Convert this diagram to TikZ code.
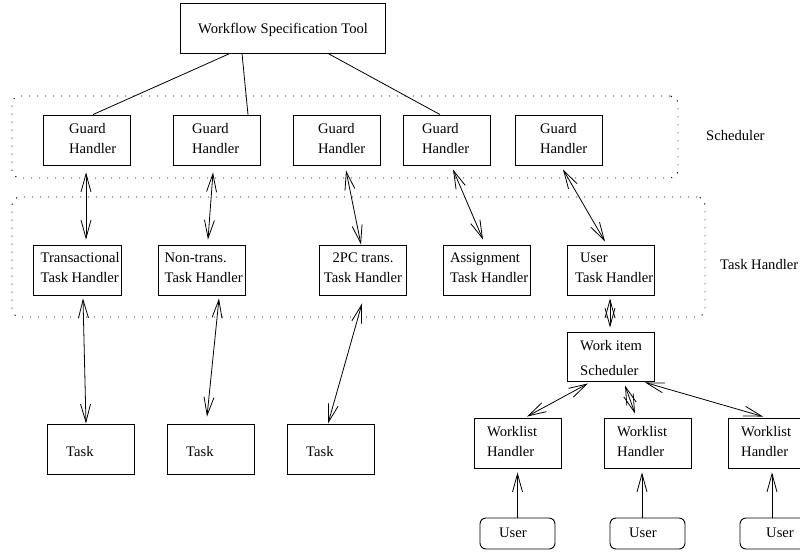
\documentclass[tikz,border=0pt]{standalone}
\usepackage{fontspec}
\setmainfont{Liberation Serif}
\usetikzlibrary{arrows.meta}
\begin{document}
\begin{tikzpicture}[x=1pt,y=-1pt,
  box/.style={draw, line width=0.9pt, minimum width=87pt, minimum height=50pt, inner sep=0pt},
  ubox/.style={draw, line width=0.9pt, rounded corners=6pt, minimum width=75pt, minimum height=31pt, inner sep=0pt},
  grp/.style={draw, line width=0.9pt, dash pattern=on 1.2pt off 6.8pt, rounded corners=8pt, inner sep=0pt},
  txt/.style={anchor=base west, inner sep=0pt, align=left, font=\fontsize{14.6}{20}\selectfont},
  ctxt/.style={anchor=base, inner sep=0pt, align=center, font=\fontsize{14.6}{20}\selectfont},
  conn/.style={line width=0.8pt},
  biarr/.style={line width=0.8pt, {Straight Barb[length=18pt,width=10pt]}-{Straight Barb[length=18pt,width=10pt]}},
  uarr/.style={line width=0.8pt, -{Straight Barb[length=18pt,width=10pt]}}]
\useasboundingbox (0,0) rectangle (800,552);
\clip (0,0) rectangle (800,552);

% groups
\node[grp, minimum width=666pt, minimum height=82pt] (sched) at (345,137) {};
\node[grp, minimum width=693pt, minimum height=120pt] (taskh) at (358.5,257) {};
\node[txt] (schedl) at (706,140) {Scheduler};
\node[txt] (taskhl) at (720,269) {Task Handler};

% top
\node[box, minimum width=205pt] (wst) at (282.5,28) {};
\node[txt] (wstt) at (198,33) {Workflow Specification Tool};

% guard handlers
\node[box] (g1) at (86.5,140) {};
\node[box] (g2) at (216.5,140) {};
\node[box] (g3) at (336.5,140) {};
\node[box] (g4) at (446.5,140) {};
\node[box] (g5) at (558.5,140) {};
\node[txt] (g1t) at (69,153) {Guard\\Handler};
\node[txt] (g2t) at (192,153) {Guard\\Handler};
\node[txt] (g3t) at (318,153) {Guard\\Handler};
\node[txt] (g4t) at (422,153) {Guard\\Handler};
\node[txt] (g5t) at (540,153) {Guard\\Handler};

% task handlers
\node[box, minimum width=88pt] (t1) at (77,270) {};
\node[box] (t2) at (201.5,270) {};
\node[box] (t3) at (362.5,270) {};
\node[box] (t4) at (486.5,270) {};
\node[box] (t5) at (610.5,270) {};
\node[txt] (t1t) at (40.5,282) {Transactional\\Task Handler};
\node[txt] (t2t) at (164.5,282) {Non-trans.\\Task Handler};
\node[ctxt] (t3t) at (363,282) {2PC trans.\\Task Handler};
\node[txt] (t4t) at (450,282) {Assignment\\Task Handler};
\node[txt] (t5t) at (575,282) {\hspace*{5pt}User\\Task Handler};

% work item scheduler
\node[box, minimum height=49pt] (wis) at (610.5,356.5) {};
\node[txt] (wist) at (580,375) {Work item\\[5pt]Scheduler};

% tasks
\node[box] (k1) at (90.5,449) {};
\node[box] (k2) at (210.5,449) {};
\node[box] (k3) at (330.5,449) {};
\node[txt] (k1t) at (66,456) {Task};
\node[txt] (k2t) at (186,456) {Task};
\node[txt] (k3t) at (306,456) {Task};

% worklist handlers
\node[box] (w1) at (517.5,443) {};
\node[box] (w2) at (647.5,443) {};
\node[box] (w3) at (771.5,443) {};
\node[txt] (w1t) at (487,456) {Worklist\\Handler};
\node[txt] (w2t) at (617,456) {Worklist\\Handler};
\node[txt] (w3t) at (741,456) {Worklist\\Handler};

% users
\node[ubox] (u1) at (517.5,533.5) {};
\node[ubox] (u2) at (647.5,533.5) {};
\node[ubox] (u3) at (777.5,533.5) {};
\node[txt] (u1t) at (499,537) {User};
\node[txt] (u2t) at (629,537) {User};
\node[txt] (u3t) at (766,537) {User};

% plain connectors
\draw[conn] ([xshift=-52.5pt]wst.south) -- ([xshift=6.5pt]g1.north);
\draw[conn] ([xshift=-40.5pt]wst.south) -- ([xshift=31.5pt]g2.north);
\draw[conn] ([xshift=45.5pt]wst.south) -- ([xshift=-6.5pt]g4.north);

% guard <-> task handler
\draw[biarr] ([xshift=-0.5pt,yshift=-7pt]g1.south) -- ([xshift=9pt,yshift=5pt]t1.north);
\draw[biarr] ([xshift=-3.5pt,yshift=-7pt]g2.south) -- ([xshift=6.5pt,yshift=5pt]t2.north);
\draw[biarr] ([xshift=9.5pt,yshift=-5pt]g3.south) -- ([xshift=-1.5pt]t3.north);
\draw[biarr] ([xshift=6.5pt,yshift=-4pt]g4.south) -- ([xshift=-3.5pt,yshift=5pt]t4.north);
\draw[biarr] ([xshift=4.5pt,yshift=-4pt]g5.south) -- ([xshift=-5.5pt,yshift=3pt]t5.north);

% user task handler <-> work item scheduler
\draw[biarr] ([xshift=-0.5pt,yshift=-3pt]t5.south) -- ([xshift=-0.5pt,yshift=4pt]wis.north);

% task handler <-> task
\draw[biarr] ([xshift=6pt,yshift=-3pt]t1.south) -- ([xshift=-4.5pt]k1.north);
\draw[biarr] ([xshift=17.5pt,yshift=-3pt]t2.south) -- ([xshift=-3.5pt,yshift=7pt]k2.north);
\draw[biarr] ([xshift=-0.5pt,yshift=-8pt]t3.south) -- ([xshift=-2.5pt]k3.north);

% work item scheduler <-> worklist handlers
\draw[biarr] ([xshift=-22.5pt,yshift=-2pt]wis.south) -- ([xshift=9.5pt,yshift=1pt]w1.north);
\draw[biarr] ([xshift=14.5pt,yshift=-4pt]wis.south) -- ([xshift=-12.5pt,yshift=4pt]w2.north);
\draw[biarr] ([xshift=34.5pt,yshift=-1pt]wis.south) -- ([xshift=-8.5pt,yshift=1pt]w3.north);

% users -> worklist handlers
\draw[uarr] (u1.north) -- ([yshift=-4pt]w1.south);
\draw[uarr] ([xshift=-5.5pt]u2.north) -- ([xshift=-5.5pt,yshift=-4pt]w2.south);
\draw[uarr] ([xshift=-5.5pt]u3.north) -- ([xshift=0.5pt,yshift=-4pt]w3.south);
\end{tikzpicture}
\end{document}
